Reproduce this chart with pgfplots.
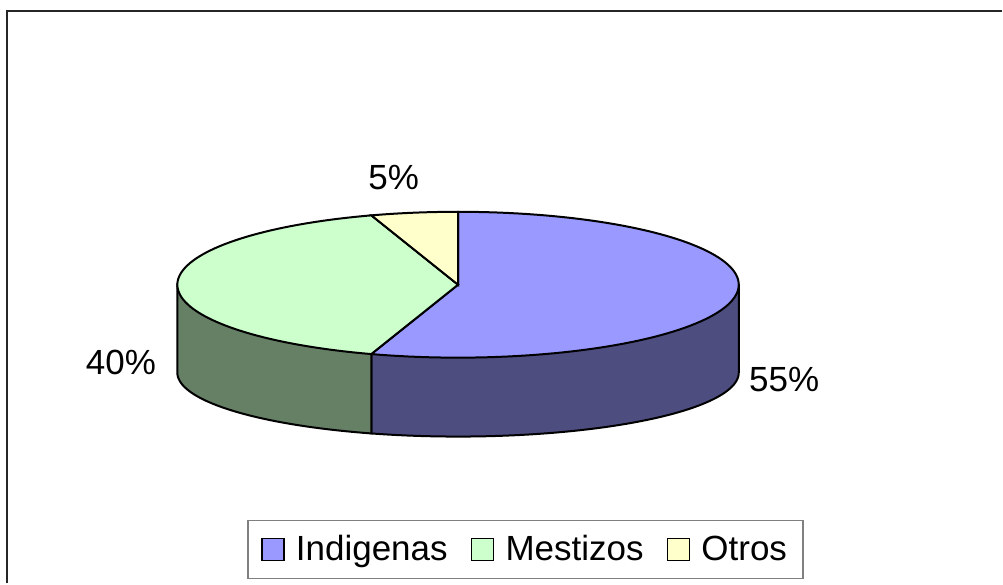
\documentclass[border=0pt]{standalone}
\usepackage{pgfplots}
\pgfplotsset{compat=1.18}
\usepackage{fontspec}
\setmainfont{Liberation Sans}
\newcommand\lfont{\fontsize{17.5}{21}\selectfont}
\definecolor{indtop}{HTML}{9999FF}
\definecolor{indside}{HTML}{4D4D80}
\definecolor{mestop}{HTML}{CCFFCC}
\definecolor{messide}{HTML}{668066}
\definecolor{otrtop}{HTML}{FFFFCC}
\definecolor{legline}{HTML}{808080}
\begin{document}
\begin{tikzpicture}
% values (percent)
\def\vInd{55}
\def\vMes{40}
\def\vOtr{5}
% geometry (pixel units of the axis)
\def\cx{458.5}
\def\cy{299}
\def\rx{281}
\def\ry{73}
\def\cyb{211}
\def\ryb{64}
\pgfmathsetmacro\aA{90}
\pgfmathsetmacro\aB{90-\vInd*3.6}
\pgfmathsetmacro\aC{\aB-\vMes*3.6}
\pgfmathsetmacro\aD{\aC-\vOtr*3.6}
\pgfmathsetmacro\xB{\cx+\rx*cos(\aB)}
\pgfmathsetmacro\yB{\cy+\ry*sin(\aB)}
\pgfmathsetmacro\xR{\cx+\rx}
\pgfmathsetmacro\xL{\cx-\rx}
\begin{axis}[
  scale only axis, width=501.5pt, height=292pt,
  xmin=0, xmax=1003, ymin=0, ymax=584,
  hide axis, clip=false,
  legend columns=3,
  legend image code/.code={\draw[#1,draw=black,line width=0.75pt] (1pt,-5.5pt) rectangle (12pt,5.5pt); \path[draw=none,fill=none] (0pt,0pt) -- (16pt,0pt);},
  legend style={at={(axis cs:526,34)}, anchor=center, draw=legline, line width=0.75pt,
    font=\lfont, inner xsep=6pt, inner ysep=5.5pt,
    /tikz/every even column/.append style={column sep=9pt}},
]
\path (axis cs:0,0) rectangle (axis cs:1003,584);
% side faces
\addplot[fill=indside, draw=black, line width=1pt, domain=\aB:0, samples=60, forget plot]
  ({\cx+\rx*cos(x)},{\cyb+\ryb*sin(x)}) -- (axis cs:\xR,\cy) -- (axis cs:\xB,\yB) -- cycle;
\addplot[fill=messide, draw=black, line width=1pt, domain=-180:\aB, samples=40, forget plot]
  ({\cx+\rx*cos(x)},{\cyb+\ryb*sin(x)}) -- (axis cs:\xB,\yB) -- (axis cs:\xL,\cy) -- cycle;
% top faces
\addplot[fill=indtop, draw=black, line width=1pt, domain=\aB:\aA, samples=100]
  ({\cx+\rx*cos(x)},{\cy+\ry*sin(x)}) -- (axis cs:\cx,\cy) -- cycle;
\addlegendentry{Indigenas}
\addplot[fill=mestop, draw=black, line width=1pt, domain=\aC:\aB, samples=80]
  ({\cx+\rx*cos(x)},{\cy+\ry*sin(x)}) -- (axis cs:\cx,\cy) -- cycle;
\addlegendentry{Mestizos}
\addplot[fill=otrtop, draw=black, line width=1pt, domain=\aD:\aC, samples=20]
  ({\cx+\rx*cos(x)},{\cy+\ry*sin(x)}) -- (axis cs:\cx,\cy) -- cycle;
\addlegendentry{Otros}
% labels
\node[font=\lfont] at (axis cs:394,406) {5\%};
\node[font=\lfont] at (axis cs:121,221) {40\%};
\node[font=\lfont] at (axis cs:785,204) {55\%};
% frame
\draw[line width=1pt, black!85] (axis cs:7,0) -- (axis cs:7,573) -- (axis cs:1003,573);
\end{axis}
\end{tikzpicture}
\end{document}
